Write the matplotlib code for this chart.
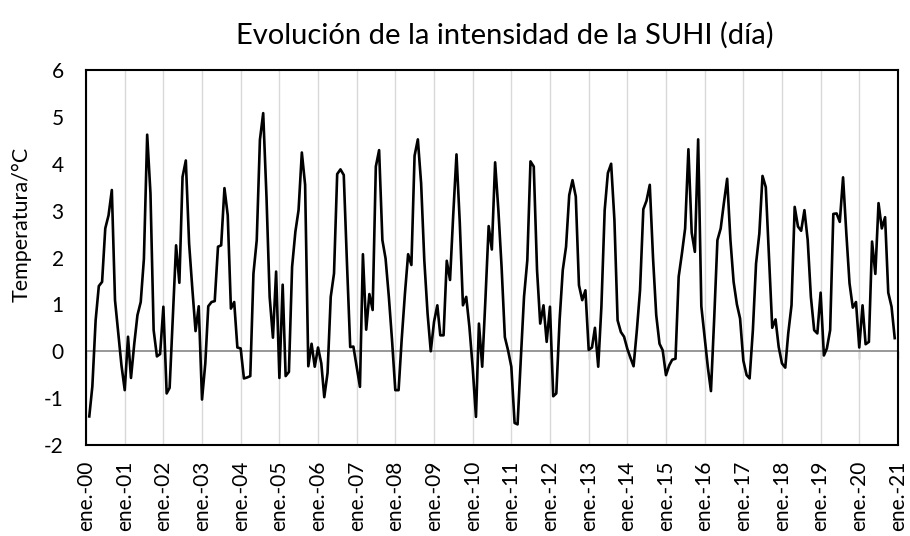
import matplotlib
matplotlib.use("Agg")
import matplotlib.pyplot as plt
import pandas as pd

title = "Evolución de la intensidad de la SUHI (día)"
ylabel = "Temperatura/°C"

# monthly series, first value = Feb 2000, last = Dec 2020
first_month = "2000-02-01"
suhi = [
    -1.39, -0.75, 0.66, 1.39, 1.48, 2.62, 2.9, 3.44, 1.09, 0.38, -0.3, -0.83,
    0.31, -0.57, 0.16, 0.77, 1.05, 1.97, 4.62, 3.37, 0.45, -0.11, -0.06, 0.95,
    -0.9, -0.78, 0.75, 2.26, 1.46, 3.72, 4.07, 2.3, 1.35, 0.43, 0.96, -1.03,
    -0.26, 0.96, 1.05, 1.07, 2.23, 2.26, 3.48, 2.9, 0.91, 1.05, 0.08, 0.06,
    -0.58, -0.56, -0.53, 1.66, 2.37, 4.51, 5.08, 3.3, 1.16, 0.29, 1.7, -0.57,
    1.42, -0.53, -0.44, 1.8, 2.55, 3.01, 4.24, 3.55, -0.32, 0.16, -0.33, 0.08,
    -0.26, -0.98, -0.46, 1.16, 1.66, 3.78, 3.88, 3.76, 1.9, 0.09, 0.1, -0.33,
    -0.76, 2.07, 0.46, 1.22, 0.88, 3.94, 4.29, 2.37, 1.98, 1.16, 0.24, -0.83,
    -0.83, 0.24, 1.23, 2.07, 1.84, 4.17, 4.52, 3.58, 1.94, 0.8, 0.0, 0.63,
    0.98, 0.34, 0.34, 1.93, 1.52, 2.9, 4.2, 2.75, 0.98, 1.16, 0.52, -0.35,
    -1.4, 0.59, -0.33, 1.09, 2.67, 2.17, 4.03, 3.0, 1.8, 0.3, 0.02, -0.33,
    -1.53, -1.56, -0.15, 1.16, 1.94, 4.05, 3.94, 1.73, 0.59, 0.98, 0.2, 0.95,
    -0.96, -0.9, 0.66, 1.73, 2.23, 3.33, 3.65, 3.3, 1.41, 1.09, 1.3, 0.03,
    0.08, 0.5, -0.33, 0.95, 3.01, 3.8, 4.0, 2.8, 0.66, 0.41, 0.31, 0.05,
    -0.15, -0.32, 0.45, 1.3, 3.03, 3.21, 3.55, 1.98, 0.77, 0.16, 0.02, -0.51,
    -0.3, -0.18, -0.16, 1.59, 2.09, 2.62, 4.31, 2.53, 2.12, 4.52, 0.96, 0.3,
    -0.35, -0.85, 0.72, 2.37, 2.62, 3.16, 3.68, 2.37, 1.48, 1.0, 0.7, -0.2,
    -0.51, -0.58, 0.45, 1.87, 2.51, 3.74, 3.5, 2.0, 0.5, 0.68, 0.09, -0.26,
    -0.35, 0.38, 0.98, 3.08, 2.66, 2.57, 3.01, 2.37, 1.16, 0.45, 0.38, 1.25,
    -0.09, 0.06, 0.45, 2.93, 2.94, 2.76, 3.71, 2.51, 1.45, 0.93, 1.05, 0.08,
    0.98, 0.15, 0.2, 2.34, 1.65, 3.16, 2.62, 2.86, 1.25, 0.95, 0.28,
]

tick_years = list(range(2000, 2022))
tick_labels = [
    "ene.-00", "ene.-01", "ene.-02", "ene.-03", "ene.-04", "ene.-05",
    "ene.-06", "ene.-07", "ene.-08", "ene.-09", "ene.-10", "ene.-11",
    "ene.-12", "ene.-13", "ene.-14", "ene.-15", "ene.-16", "ene.-17",
    "ene.-18", "ene.-19", "ene.-20", "ene.-21",
]
yticks = [-2, -1, 0, 1, 2, 3, 4, 5, 6]

plt.rcParams['font.family'] = ['Lato', 'DejaVu Sans']

fig = plt.figure(figsize=(9.1, 5.36), dpi=100)
W, H = 910, 536
ax = fig.add_axes([86 / W, 1 - 445 / H, (898 - 86) / W, (445 - 70) / H])

dates = pd.date_range(first_month, periods=len(suhi), freq='MS')
tick_dates = pd.to_datetime([f"{y}-01-01" for y in tick_years])

ax.plot(dates, suhi, color='black', lw=1.9, zorder=3)

ax.set_xlim(tick_dates[0], tick_dates[-1])
ax.set_ylim(yticks[0], yticks[-1])
ax.set_yticks(yticks)
ax.set_yticklabels([str(v) for v in yticks])
ax.set_xticks(tick_dates)
ax.set_xticklabels(tick_labels, rotation=90, va='top', ha='center')

ax.grid(axis='x', color='#d9d9d9', lw=1.0, zorder=0)
ax.set_axisbelow(True)
ax.tick_params(axis='x', length=0, pad=11, labelsize=15, colors='#000000')
ax.tick_params(axis='y', length=0, pad=16, labelsize=15)
for s in ax.spines.values():
    s.set_color('black')
    s.set_linewidth(1.5)

# horizontal axis line at zero with outward tick marks
ax.axhline(0, color='#868686', lw=1.2, zorder=1.5)
sec = ax.secondary_xaxis(0.25)
sec.set_xticks(tick_dates)
sec.set_xticklabels([])
sec.tick_params(axis='x', length=6, width=1.0, color='#868686', direction='out')
sec.spines['bottom'].set_visible(False)

fig.text(505 / W, 1 - 35 / H, title, ha='center', va='center', fontsize=21)
fig.text(22 / W, 1 - 224 / H, ylabel, ha='center', va='center',
         rotation=90, fontsize=15.5)

fig.savefig("out.png", dpi=100)
